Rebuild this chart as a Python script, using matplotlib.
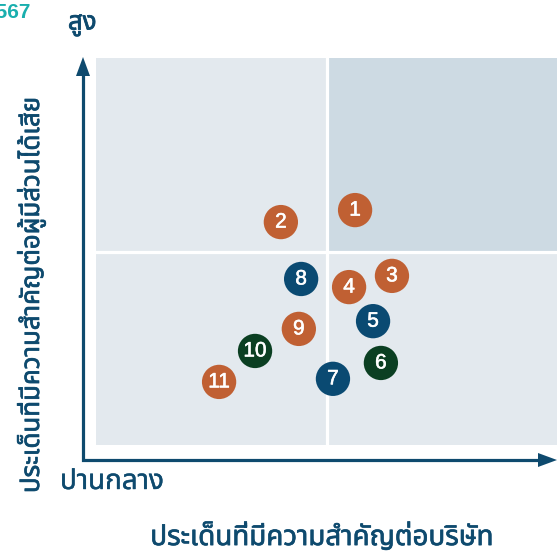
import matplotlib
matplotlib.use('Agg')
import matplotlib.pyplot as plt
from matplotlib.patches import Rectangle, Polygon
import matplotlib.patheffects as pe

# issue positions on the materiality matrix (0-10 on both axes, 5 = mid line)
issue_ids = [1, 2, 3, 4, 5, 6, 7, 8, 9, 10, 11]
company_importance = [5.62, 4.01, 6.42, 5.49, 6.01, 6.18, 5.14, 4.45, 4.40, 3.45, 2.67]
stakeholder_importance = [6.07, 5.76, 4.37, 4.08, 3.20, 2.12, 1.71, 4.29, 3.00, 2.43, 1.63]
issue_group = ['S', 'S', 'S', 'S', 'G', 'E', 'G', 'G', 'S', 'E', 'S']

group_colors = {'S': '#c06033', 'G': '#0a4a72', 'E': '#0b3f22'}
navy = '#0e4a6e'
thai = ['Noto Sans Thai', 'DejaVu Sans']


def heavy(w, color):
    return [pe.withStroke(linewidth=w, foreground=color)]


W, H = 558, 552
fig = plt.figure(figsize=(W / 100, H / 100), dpi=100)

# pixel-space overlay for the arrows and labels
ov = fig.add_axes([0, 0, 1, 1], zorder=0)
ov.set_xlim(0, W)
ov.set_ylim(H, 0)
ov.axis('off')

# matrix panel
left, right, top, bottom = 96, 557, 58, 445
ax = fig.add_axes([left / W, 1 - bottom / H, (right - left) / W, (bottom - top) / H], zorder=1)
ax.set_xlim(0, 10)
ax.set_ylim(0, 10)
ax.axis('off')
ax.add_patch(Rectangle((0, 0), 10, 10, facecolor='#e3e9ee', edgecolor='none'))
ax.add_patch(Rectangle((5, 5), 5, 5, facecolor='#cddae3', edgecolor='none'))
ax.axvline(5, color='white', lw=2.3)
ax.axhline(5, color='white', lw=2.3)

ax.scatter(company_importance, stakeholder_importance, s=610,
           c=[group_colors[g] for g in issue_group], edgecolors='none', zorder=3)
for i, x, y in zip(issue_ids, company_importance, stakeholder_importance):
    ax.text(x, y, str(i), ha='center', va='center', color='white', fontsize=15,
            family='Liberation Sans', zorder=4, path_effects=heavy(0.4, 'white'))

# axes arrows
ov.plot([83, 83, 540], [75, 460, 460], color=navy, lw=2.3, solid_joinstyle='miter',
        solid_capstyle='butt')
ov.add_patch(Polygon([[76, 76], [90, 76], [83, 57]], closed=True, color=navy, lw=0))
ov.add_patch(Polygon([[538, 453], [538, 467], [557, 460]], closed=True, color=navy, lw=0))

# labels
ov.text(31, 12, '2567', ha='right', va='center', color='#1aafae', fontsize=15,
        fontweight='bold', family='Liberation Sans')
ov.text(68, 24, 'สูง', ha='left', va='center', color=navy, fontsize=18.5,
        family=thai, path_effects=heavy(0.6, navy))
ov.text(60, 482, 'ปานกลาง', ha='left', va='center', color=navy, fontsize=20,
        family=thai, path_effects=heavy(0.3, navy))
ov.text(322, 537, 'ประเด็นที่มีความสำคัญต่อบริษัท', ha='center', va='center', color=navy,
        fontsize=20, family=thai, path_effects=heavy(0.5, navy))
ov.text(31, 295, 'ประเด็นที่มีความสำคัญต่อผู้มีส่วนได้เสีย', ha='center', va='center',
        color=navy, fontsize=18.6, family=thai, rotation=90, path_effects=heavy(0.5, navy))

fig.savefig('out.png', dpi=100)
